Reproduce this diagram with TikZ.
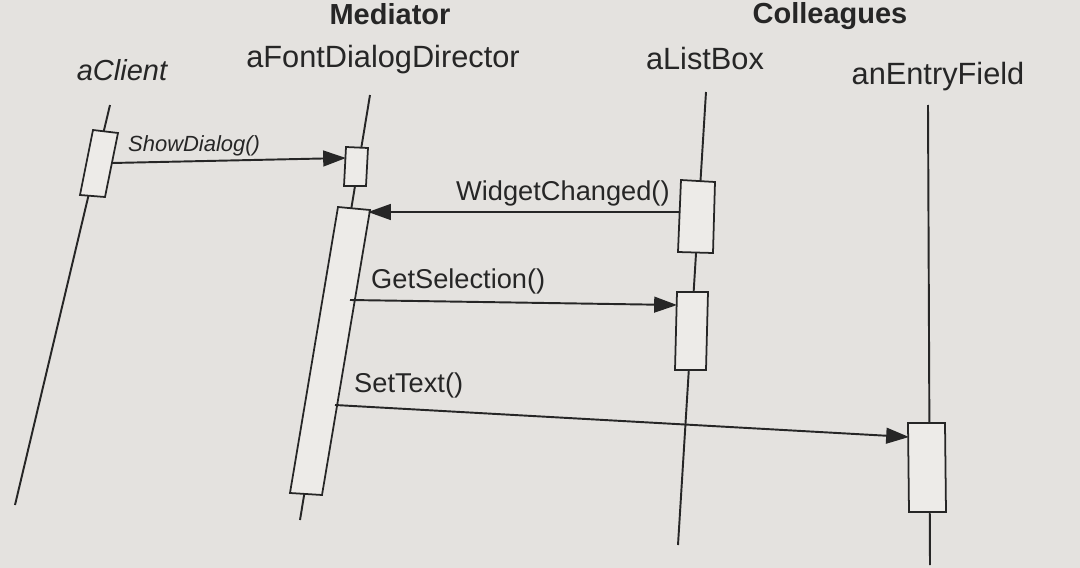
\documentclass[tikz,border=0pt]{standalone}
\usepackage{fontspec}
\setmainfont{Liberation Sans}
\usetikzlibrary{arrows.meta}
\definecolor{bg}{HTML}{E4E2DF}
\definecolor{ink}{HTML}{262626}
\definecolor{boxfill}{HTML}{EDEBE8}
\begin{document}
\begin{tikzpicture}[x=0.02cm,y=-0.02cm,
  lifeline/.style={draw=ink,line width=1.1pt},
  actbox/.style={draw=ink,line width=1pt,fill=boxfill},
  msg/.style={draw=ink,line width=1.1pt,-{Triangle[length=13pt,width=9pt]}},
  lbl/.style={text=ink,font=\fontsize{17.5}{19}\selectfont,anchor=base},
  mlbl/.style={text=ink,font=\fontsize{15.5}{18}\selectfont,anchor=base west},
  head/.style={text=ink,font=\bfseries\fontsize{16.5}{19}\selectfont,anchor=base}]
\fill[bg] (0,0) rectangle (1080,568);
\useasboundingbox (0,0) rectangle (1080,568);
% headers
\node[head] (hm) at (390,25) {Mediator};
\node[head] (hc) at (830,24) {Colleagues};
\node[lbl,font=\itshape\fontsize{16.5}{18}\selectfont] (n1) at (122,80) {aClient};
\node[lbl] (n2) at (383,68) {aFontDialogDirector};
\node[lbl] (n3) at (705,70) {aListBox};
\node[lbl] (n4) at (938,84) {anEntryField};
% lifelines
\coordinate (c1t) at (110,105); \coordinate (c1b) at (15,505);
\coordinate (c2t) at (370,95);  \coordinate (c2b) at (300,520);
\coordinate (c3t) at (706,92);  \coordinate (c3b) at (678,545);
\coordinate (c4t) at (928,105); \coordinate (c4b) at (930,565);
\draw[lifeline] (c1t) -- (c1b);
\draw[lifeline] (c2t) -- (c2b);
\draw[lifeline] (c3t) -- (c3b);
\draw[lifeline] (c4t) -- (c4b);
% activation boxes
\draw[actbox] (93,130) -- (118,133) -- (105,197) -- (80,195) -- cycle;
\draw[actbox] (346,147) -- (368,148) -- (366,186) -- (344,186) -- cycle;
\draw[actbox] (338,207) -- (370,210) -- (322,495) -- (290,493) -- cycle;
\draw[actbox] (681,180) -- (715,182) -- (713,253) -- (678,252) -- cycle;
\draw[actbox] (677,292) -- (708,292) -- (706,370) -- (675,370) -- cycle;
\draw[actbox] (908,423) -- (945,423) -- (946,512) -- (909,512) -- cycle;
% messages
\coordinate (s1) at (112,163); \coordinate (e1) at (346,158);
\coordinate (s2) at (680,212); \coordinate (e2) at (368,212);
\coordinate (s3) at (350,300); \coordinate (e3) at (677,305);
\coordinate (s4) at (335,405); \coordinate (e4) at (909,437);
\draw[msg] (s1) -- (e1);
\draw[msg] (s2) -- (e2);
\draw[msg] (s3) -- (e3);
\draw[msg] (s4) -- (e4);
\node[mlbl,font=\itshape\fontsize{12.5}{14}\selectfont] (m1) at (122,151) {ShowDialog()};
\node[mlbl] (m2) at (450,200) {WidgetChanged()};
\node[mlbl] (m3) at (365,288) {GetSelection()};
\node[mlbl] (m4) at (348,392) {SetText()};
\end{tikzpicture}
\end{document}
